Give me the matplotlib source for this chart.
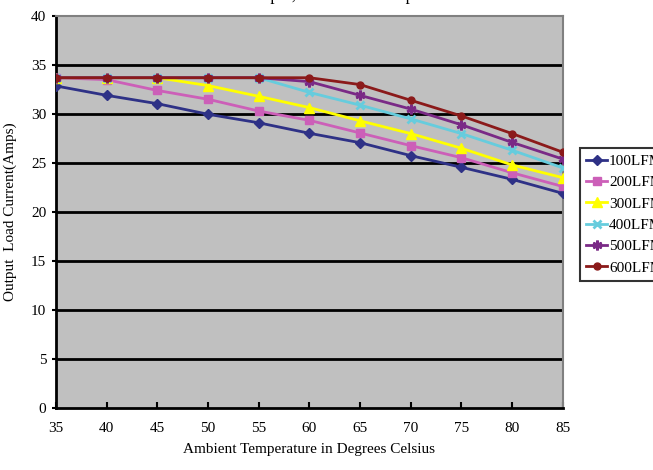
import matplotlib.pyplot as plt

temps = [35, 40, 45, 50, 55, 60, 65, 70, 75, 80, 85]
lfm_100 = [32.86, 31.9, 31.05, 29.97, 29.1, 28.03, 27.07, 25.75, 24.56, 23.33, 21.9]
lfm_200 = [33.7, 33.5, 32.4, 31.5, 30.3, 29.35, 28.06, 26.77, 25.54, 24.0, 22.6]
lfm_300 = [33.7, 33.7, 33.7, 32.9, 31.8, 30.65, 29.3, 28.0, 26.5, 24.8, 23.5]
lfm_400 = [33.7, 33.7, 33.7, 33.7, 33.7, 32.2, 30.9, 29.5, 28.0, 26.3, 24.5]
lfm_500 = [33.7, 33.7, 33.7, 33.7, 33.7, 33.3, 31.9, 30.5, 28.9, 27.1, 25.4]
lfm_600 = [33.7, 33.7, 33.7, 33.7, 33.7, 33.7, 33.0, 31.4, 29.8, 28.0, 26.1]
labels = ["100LFM", "200LFM", "300LFM", "400LFM", "500LFM", "600LFM"]
yticks = [0, 5, 10, 15, 20, 25, 30, 35, 40]

series = [lfm_100, lfm_200, lfm_300, lfm_400, lfm_500, lfm_600]
colors = ["#2E3186", "#CC5FB8", "#FFFF00", "#66CCDD", "#7A2A86", "#8B1A1A"]
markers = ["D", "s", "^", "x", (6, 2, 0), "o"]
msizes = [5, 6, 7, 6, 7, 5]

plt.rcParams["font.family"] = ["Liberation Serif", "DejaVu Serif"]

fig = plt.figure(figsize=(6.53, 4.70), dpi=100)
ax = fig.add_axes([0.0858, 0.132, 0.776, 0.834])
ax.set_facecolor("#C0C0C0")

for yv in yticks[1:-1]:
    ax.axhline(yv, color="black", lw=2, zorder=1)

for vals, lab, c, m, ms in zip(series, labels, colors, markers, msizes):
    ax.plot(temps, vals, color=c, marker=m, markersize=ms, lw=2,
            mew=2 if m in ("x", (6, 2, 0)) else 1, label=lab, zorder=3)

ax.set_xlim(35, 85)
ax.set_ylim(0, 40)
ax.set_xticks(temps)
ax.set_yticks(yticks)
ax.tick_params(axis="x", direction="in", length=4, width=1.5, labelsize=11, pad=10)
ax.tick_params(axis="y", direction="out", length=3, width=1.5, labelsize=11, pad=4)
for s in ("top", "right"):
    ax.spines[s].set_color("#808080")
    ax.spines[s].set_linewidth(1.5)
for s in ("left", "bottom"):
    ax.spines[s].set_color("black")
    ax.spines[s].set_linewidth(2)

ax.set_xlabel("Ambient Temperature in Degrees Celsius", fontsize=11, labelpad=6)
ax.set_ylabel("Output  Load Current(Amps)", fontsize=11, labelpad=10)

fig.text(0.5, 0.999, "48V Input, Vo=1.0V  Ideal pcb", ha="center", va="baseline", fontsize=12)

leg = ax.legend(loc="upper left", bbox_to_anchor=(0.888, 0.685), bbox_transform=fig.transFigure,
                borderaxespad=0, frameon=True, fancybox=False, edgecolor="black", fontsize=11,
                handlelength=1.4, labelspacing=0.5, borderpad=0.4, handletextpad=0.1)
leg.get_frame().set_linewidth(1.5)

fig.savefig("out.png", dpi=100)
